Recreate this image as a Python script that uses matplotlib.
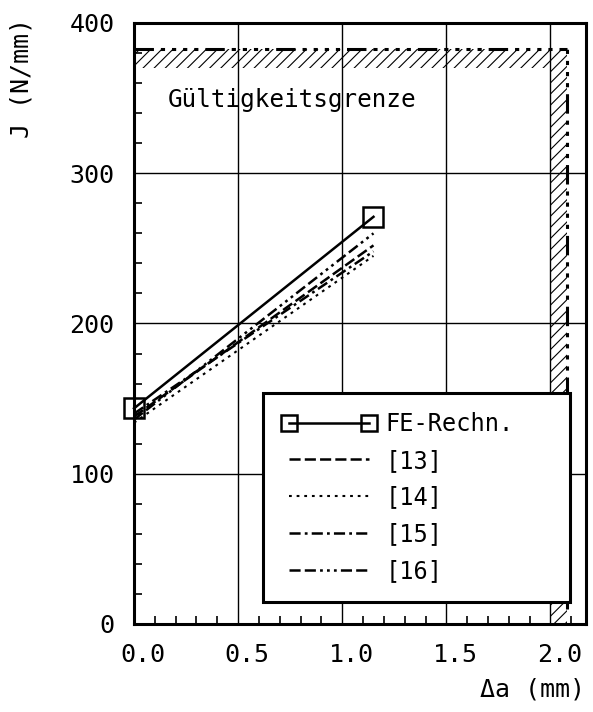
"""
J-R curve comparison: FE result vs. literature estimates
"""
import matplotlib
matplotlib.use('Agg')
import matplotlib.pyplot as plt
import matplotlib.transforms as mtransforms
from matplotlib.ticker import MultipleLocator

# crack growth (mm) and J (N/mm)
da = [0.0, 1.15]
j_fe = [143.5, 271.0]
j_13 = [138.0, 252.0]
j_14 = [134.0, 245.0]
j_15 = [140.0, 248.0]
j_16 = [136.0, 260.0]

# validity limit
j_limit = 383.0
j_band = 370.0
da_limit = 2.08
da_band = 2.0

x_ticks = [0.0, 0.5, 1.0, 1.5, 2.0]
x_labels = ['0.0', '0.5', '1.0', '1.5', '2.0']
y_ticks = [0, 100, 200, 300, 400]

plt.rcParams['font.family'] = ['DejaVu Sans Mono', 'DejaVu Sans']
plt.rcParams['lines.scale_dashes'] = False
plt.rcParams['hatch.linewidth'] = 0.8

fig = plt.figure(figsize=(5.93, 7.12), dpi=100)
ax = fig.add_axes([0.226, 0.1236, 0.762, 0.8441])

ax.set_xlim(0, 2.17)
ax.set_ylim(0, 400)

# grid
for x in x_ticks[1:]:
    ax.axvline(x, color='black', lw=1.0, zorder=1)
for y in y_ticks[1:]:
    ax.axhline(y, color='black', lw=1.0, zorder=1)

# hatched validity bands
ax.fill_between([0, da_limit], j_band, j_limit, facecolor='none',
                edgecolor='black', hatch='///', lw=0, zorder=2)
ax.fill_between([da_band, da_limit], 0, j_band, facecolor='none',
                edgecolor='black', hatch='///', lw=0, zorder=2)
lim_dash = (14, 5, 3, 5, 3, 5, 3, 5, 3, 5)
ax.plot([0, da_limit], [j_limit, j_limit], color='black', lw=2.2,
        dashes=lim_dash, zorder=3)
ax.plot([da_limit, da_limit], [10, j_limit], color='black', lw=2.2,
        dashes=lim_dash, zorder=3)

ax.text(0.16, 349, 'Gültigkeitsgrenze', fontsize=17.5, va='center',
        ha='left', zorder=4)

# curves
ax.plot(da, j_fe, color='black', lw=1.8, marker='s', ms=14, mfc='none',
        mew=1.8, label='FE-Rechn.', zorder=5, clip_on=False)
ax.plot(da, j_13, color='black', lw=1.8, dashes=(8, 3), label='[13]', zorder=5)
ax.plot(da, j_14, color='black', lw=1.5, dashes=(2, 3.5), label='[14]', zorder=5)
ax.plot(da, j_15, color='black', lw=1.8, dashes=(8, 3, 2, 3), label='[15]', zorder=5)
ax.plot(da, j_16, color='black', lw=1.8, dashes=(8, 3, 8, 3, 2, 3, 2, 3, 2, 3),
        label='[16]', zorder=5)

# ticks
ax.set_xticks(x_ticks)
ax.set_xticklabels(x_labels)
ax.set_yticks(y_ticks)
ax.xaxis.set_minor_locator(MultipleLocator(0.1))
ax.yaxis.set_minor_locator(MultipleLocator(20))
ax.tick_params(which='both', direction='in', length=6, width=1.2,
               top=False, right=False)
ax.tick_params(which='major', length=0)
ax.tick_params(axis='x', labelsize=18, pad=14)
ax.tick_params(axis='y', labelsize=18, pad=14)
shift = mtransforms.ScaledTranslation(9 / 100, 0, fig.dpi_scale_trans)
for lab in ax.get_xticklabels():
    lab.set_transform(lab.get_transform() + shift)
for s in ax.spines.values():
    s.set_linewidth(2.2)

leg = ax.legend(loc='lower left', bbox_to_anchor=(0.285, 0.037, 0.68, 0.348),
                mode='expand', numpoints=2, fancybox=False, framealpha=1,
                edgecolor='black', fontsize=17, handlelength=4.0,
                handletextpad=0.4, labelspacing=0.54, borderaxespad=0,
                borderpad=0.8)
leg.get_frame().set_linewidth(2.2)
leg.set_zorder(10)
leg.legend_handles[0].set_markersize(12)

fig.text(22 / 593, 1 - 18 / 712, 'J (N/mm)', rotation=90, fontsize=18,
         ha='center', va='top')
fig.text(585 / 593, 1 - 690 / 712, 'Δa (mm)', fontsize=18,
         ha='right', va='center')

fig.savefig('out.png', dpi=100, facecolor='white')
